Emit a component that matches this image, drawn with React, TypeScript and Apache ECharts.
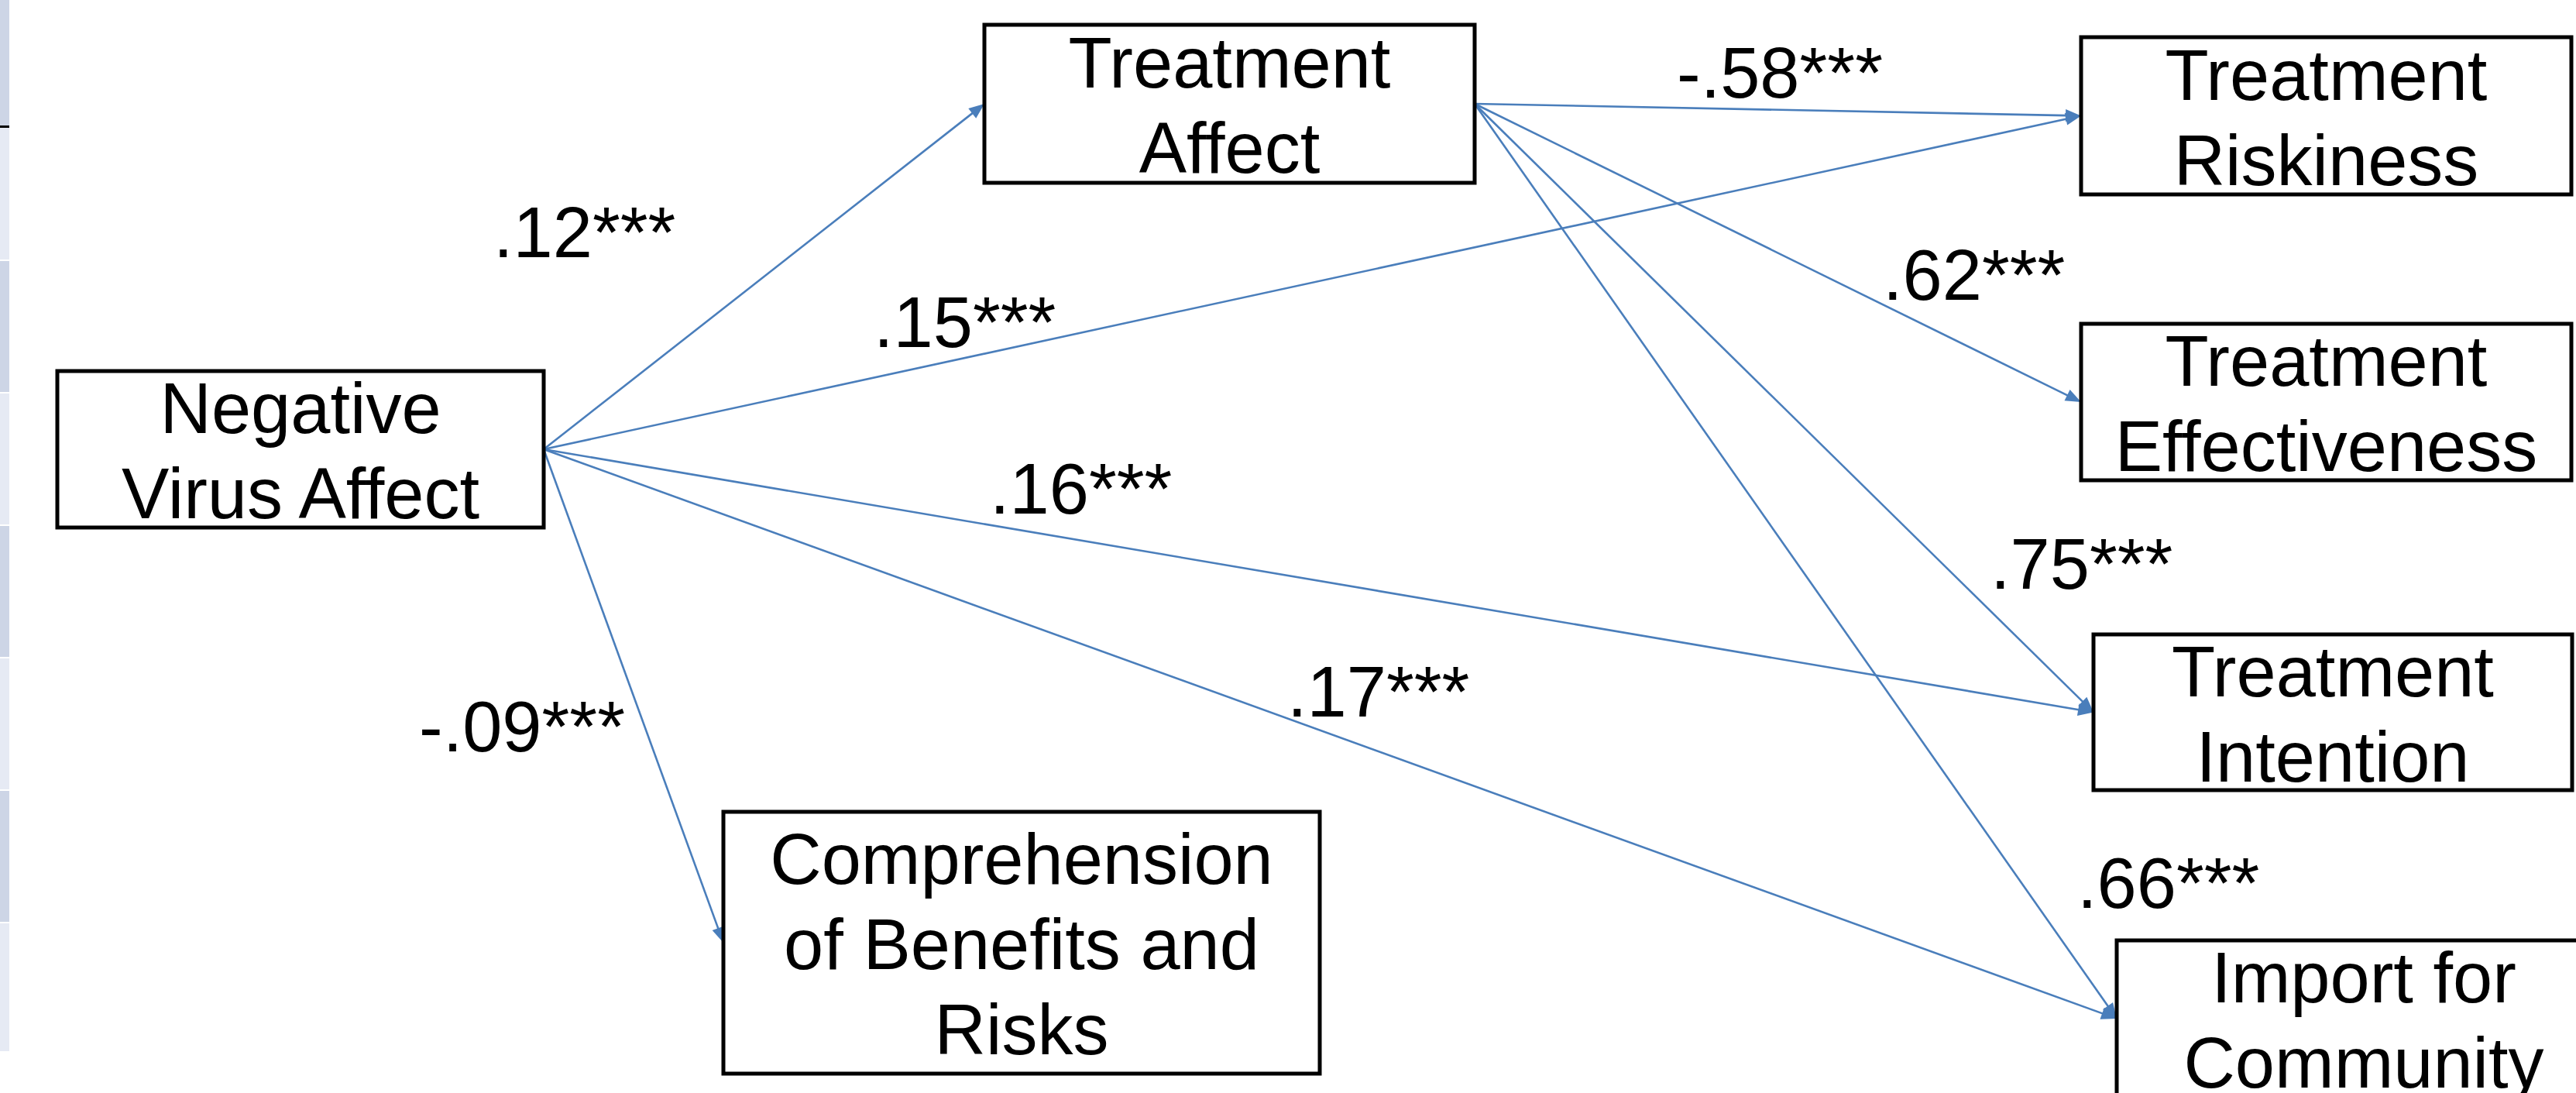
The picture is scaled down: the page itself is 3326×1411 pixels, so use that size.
import React, { useEffect, useRef } from "react";
import * as echarts from "echarts";

// ---- data ----
const nodeNames: string[] = [
  "Negative\nVirus Affect",
  "Treatment\nAffect",
  "Treatment\nRiskiness",
  "Treatment\nEffectiveness",
  "Treatment\nIntention",
  "Import for\nCommunity",
  "Comprehension\nof Benefits and\nRisks",
];

const pathFrom: number[] = [0, 0, 0, 0, 0, 1, 1, 1, 1];
const pathTo: number[] = [1, 2, 4, 5, 6, 2, 3, 4, 5];
const pathCoef: number[] = [0.12, 0.15, 0.16, 0.17, -0.09, -0.58, 0.62, 0.75, 0.66];
const pathSig: string[] = ["***", "***", "***", "***", "***", "***", "***", "***", "***"];

// ---- layout (page pixels) ----
const W = 3326;
const H = 1411;
const nodeBoxes: number[][] = [
  [74, 479, 702, 681],
  [1271, 32, 1904, 236],
  [2687, 48, 3320, 251],
  [2687, 418, 3320, 620],
  [2703, 819, 3321, 1020],
  [2733, 1214, 3371, 1416],
  [934, 1048, 1704, 1386],
];
const labelPos: number[][] = [
  [637, 332],
  [1128, 448],
  [1278, 663],
  [1662, 925],
  [541, 970],
  [2165, 126],
  [2431, 387],
  [2570, 760],
  [2682, 1172],
];
const stripBands: number[][] = [
  [0, 162, 0],
  [165, 335, 1],
  [337, 506, 0],
  [508, 677, 1],
  [679, 848, 0],
  [850, 1019, 1],
  [1021, 1190, 0],
  [1192, 1357, 1],
];

const FONT = "'Liberation Sans', Arial, Helvetica, sans-serif";
const FS = 92;
const LINE_BLUE = "#4a7ebb";

function fmtCoef(v: number): string {
  const s = v.toFixed(2);
  return s.replace("0.", ".");
}

export default function App() {
  const ref = useRef<HTMLDivElement>(null);

  useEffect(() => {
    document.body.style.margin = "0";
    if (!ref.current) return;
    const chart = echarts.init(ref.current, null, { renderer: "svg", width: W, height: H });

    const edgeData = pathFrom.map((f, i) => {
      const s = nodeBoxes[f];
      const t = nodeBoxes[pathTo[i]];
      return [s[2], (s[1] + s[3]) / 2, t[0], (t[1] + t[3]) / 2];
    });

    const option: any = {
      animation: false,
      backgroundColor: "#ffffff",
      grid: { left: 0, right: 0, top: 0, bottom: 0 },
      xAxis: { type: "value", min: 0, max: W, show: false },
      yAxis: { type: "value", min: 0, max: H, inverse: true, show: false },
      graphic: stripBands.map((b) => ({
        type: "rect",
        shape: { x: 0, y: b[0], width: 12, height: b[1] - b[0] },
        style: { fill: b[2] === 0 ? "#cdd5e6" : "#e6eaf4" },
        silent: true,
      })).concat([
        {
          type: "rect",
          shape: { x: 0, y: 162, width: 12, height: 3 },
          style: { fill: "#000000" },
          silent: true,
        } as any,
      ]),
      series: [
        {
          type: "custom",
          name: "paths",
          coordinateSystem: "cartesian2d",
          encode: { x: [0, 2], y: [1, 3] },
          data: edgeData,
          renderItem: (params: any, api: any) => {
            const p1 = api.coord([api.value(0), api.value(1)]);
            const p2 = api.coord([api.value(2), api.value(3)]);
            const dx = p2[0] - p1[0];
            const dy = p2[1] - p1[1];
            const len = Math.sqrt(dx * dx + dy * dy);
            const ux = dx / len;
            const uy = dy / len;
            const L = 20;
            const hw = 8;
            const bx = p2[0] - ux * L;
            const by = p2[1] - uy * L;
            return {
              type: "group",
              children: [
                {
                  type: "line",
                  shape: { x1: p1[0], y1: p1[1], x2: bx + ux * 2, y2: by + uy * 2 },
                  style: { stroke: LINE_BLUE, lineWidth: 2.6 },
                },
                {
                  type: "polygon",
                  shape: {
                    points: [
                      [p2[0], p2[1]],
                      [bx - uy * hw, by + ux * hw],
                      [bx + uy * hw, by - ux * hw],
                    ],
                  },
                  style: { fill: LINE_BLUE },
                },
              ],
            };
          },
          z: 1,
        },
        {
          type: "custom",
          name: "nodes",
          coordinateSystem: "cartesian2d",
          encode: { x: [0, 2], y: [1, 3] },
          data: nodeBoxes.map((b) => [b[0], b[1], b[2], b[3]]),
          renderItem: (params: any, api: any) => {
            const a = api.coord([api.value(0), api.value(1)]);
            const b = api.coord([api.value(2), api.value(3)]);
            const name = nodeNames[params.dataIndex];
            return {
              type: "group",
              children: [
                {
                  type: "rect",
                  shape: { x: a[0], y: a[1], width: b[0] - a[0], height: b[1] - a[1] },
                  style: { fill: "#ffffff", stroke: "#000000", lineWidth: 5 },
                },
                {
                  type: "text",
                  style: {
                    text: name,
                    x: (a[0] + b[0]) / 2,
                    y: (a[1] + b[1]) / 2 + 2,
                    align: "center",
                    verticalAlign: "middle",
                    fill: "#000000",
                    fontSize: FS,
                    fontFamily: FONT,
                    lineHeight: 110,
                  },
                },
              ],
            };
          },
          z: 2,
        },
        {
          type: "custom",
          name: "coefficients",
          coordinateSystem: "cartesian2d",
          encode: { x: 0, y: 1 },
          data: labelPos.map((p) => [p[0], p[1]]),
          renderItem: (params: any, api: any) => {
            const p = api.coord([api.value(0), api.value(1)]);
            const i = params.dataIndex;
            return {
              type: "text",
              style: {
                text: fmtCoef(pathCoef[i]) + pathSig[i],
                x: p[0],
                y: p[1] - 32,
                align: "left",
                verticalAlign: "middle",
                fill: "#000000",
                fontSize: FS,
                fontFamily: FONT,
              },
            };
          },
          z: 3,
        },
      ],
    };

    chart.setOption(option);
    return () => {
      chart.dispose();
    };
  }, []);

  return <div ref={ref} style={{ width: W + "px", height: H + "px", background: "#ffffff" }} />;
}
